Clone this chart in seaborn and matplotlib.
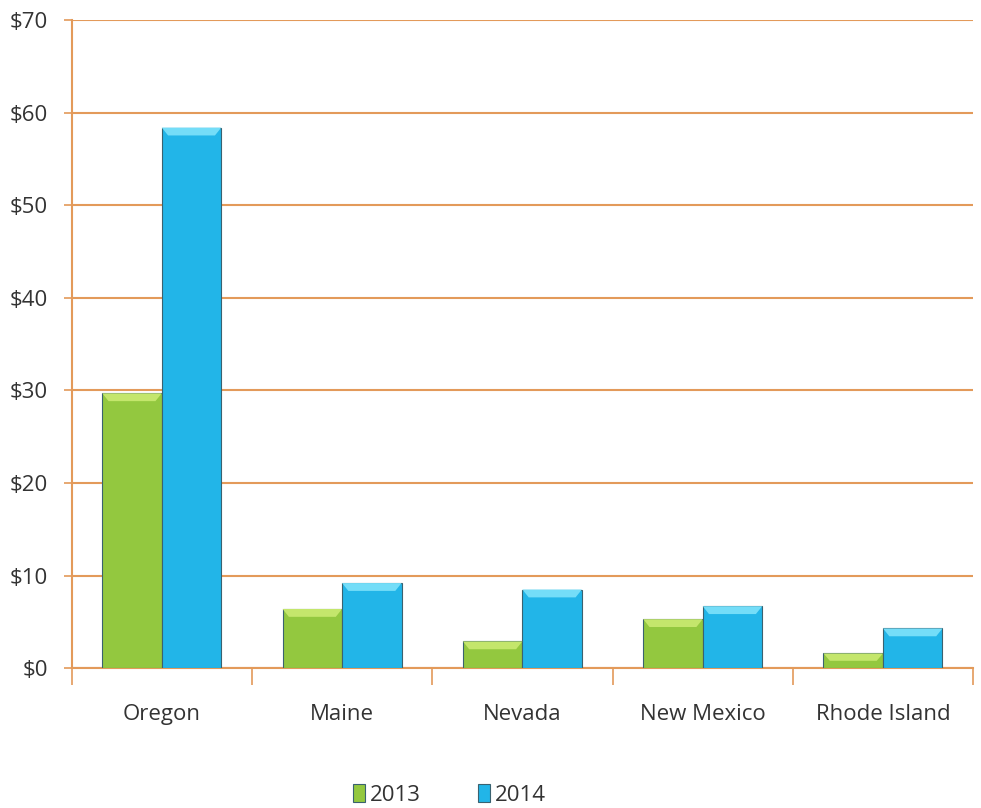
import pandas as pd
import matplotlib
matplotlib.use("Agg")
import matplotlib.pyplot as plt
from matplotlib.ticker import FuncFormatter, FixedLocator
from matplotlib.patches import Polygon
import seaborn as sns

states = ["Oregon", "Maine", "Nevada", "New Mexico", "Rhode Island"]
years = ["2013", "2014"]
values_2013 = [29.7, 6.4, 2.9, 5.3, 1.6]
values_2014 = [58.4, 9.2, 8.5, 6.7, 4.3]

df = pd.DataFrame({
    "state": states * 2,
    "year": [years[0]] * len(states) + [years[1]] * len(states),
    "value": values_2013 + values_2014,
})

sns.set_theme(style="white")
plt.rcParams["font.family"] = ["Open Sans", "DejaVu Sans"]

grid_color = "#e39a5a"
palette = {"2013": "#93c83f", "2014": "#22b5e8"}
bevel = {"#93c83f": "#c4e66c", "#22b5e8": "#74ddf8"}

fig = plt.figure(figsize=(9.81, 8.08), dpi=100)
ax = fig.add_axes([0.073, 0.173, 0.919, 0.802])

sns.barplot(data=df, x="state", y="value", hue="year", palette=palette,
            width=0.66, edgecolor="#3a6270", linewidth=0.8, saturation=1,
            ax=ax, zorder=3)

ax.set_ylim(0, 70)
ax.set_xlim(-0.5, len(states) - 0.5)

# light bevel at the top of each bar
for p in ax.patches:
    h = p.get_height()
    if h <= 0:
        continue
    x0, w = p.get_x(), p.get_width()
    b = min(0.85, h * 0.5)
    d = 0.035
    fc = matplotlib.colors.to_hex(p.get_facecolor())
    top = Polygon([(x0, h), (x0 + w, h), (x0 + w - d, h - b), (x0 + d, h - b)],
                  closed=True, facecolor=bevel.get(fc, fc), edgecolor="none", zorder=4)
    ax.add_patch(top)

ax.set_yticks(range(0, 71, 10))
ax.yaxis.set_major_formatter(FuncFormatter(lambda v, p: "${:d}".format(int(v))))
ax.yaxis.grid(True, color=grid_color, linewidth=1.5, zorder=0)
ax.set_axisbelow(True)

ax.xaxis.set_minor_locator(FixedLocator([i - 0.5 for i in range(len(states) + 1)]))
ax.tick_params(axis="x", which="major", length=0, pad=26, labelsize=16, labelcolor="#333333")
ax.tick_params(axis="x", which="minor", length=12, width=1.2, color=grid_color, bottom=True)
ax.tick_params(axis="y", which="major", length=6, width=1.2, color=grid_color, left=True,
               labelsize=16, labelcolor="#333333", pad=11)

for side in ["top", "right"]:
    ax.spines[side].set_visible(False)
for side in ["left", "bottom"]:
    ax.spines[side].set_color(grid_color)
    ax.spines[side].set_linewidth(1.5)

ax.set_xlabel("")
ax.set_ylabel("")

handles, labels = ax.get_legend_handles_labels()
ax.legend_.remove()
fig.legend(handles, labels, loc="center", bbox_to_anchor=(0.458, 0.016), ncol=2,
           frameon=False, fontsize=16, handlelength=0.55, handleheight=0.85,
           handletextpad=0.2, columnspacing=2.6, labelcolor="#333333")

fig.savefig("out.png", dpi=100, facecolor="white")
